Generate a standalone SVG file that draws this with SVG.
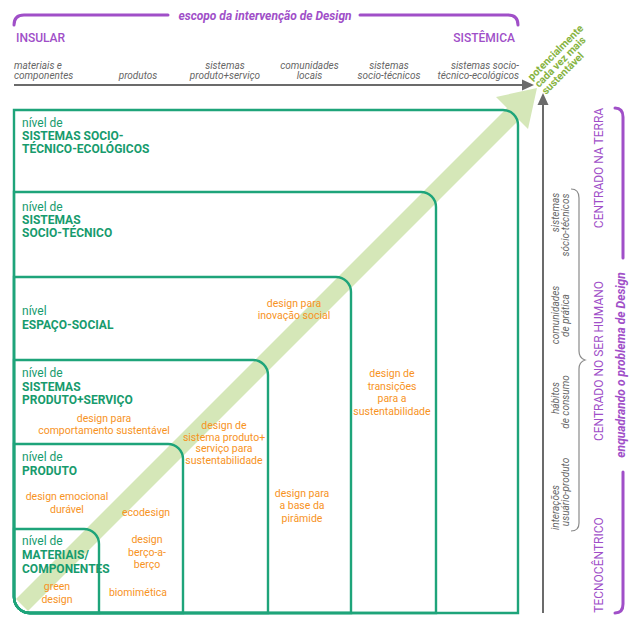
<svg xmlns="http://www.w3.org/2000/svg" width="640" height="622" viewBox="0 0 640 622">
<style>
text{font-family:Roboto,"Liberation Sans",sans-serif}
.box{fill:none;stroke:#1ea47a;stroke-width:2.4}
.lvl{fill:#179b6d;font-size:12px}
.b{font-weight:bold}
.or{fill:#f7931e;font-size:10.5px;text-anchor:middle}
.cat{fill:#666;font-size:10px;font-style:italic}
.side{fill:#666;font-size:10px;font-style:italic;text-anchor:middle}
.pur{fill:#a04fc8}
.big{font-size:12px;text-anchor:middle}
.gline{stroke:#6b6b6b;stroke-width:2;fill:none}
.pline{stroke:#a04fc8;stroke-width:3;fill:none;stroke-linecap:round}
.brace{stroke:#8a8a8a;stroke-width:1.2;fill:none}
</style>
<rect width="640" height="622" fill="#fff"/>
<g id="sustainability-arrow">
<line x1="22" y1="605" x2="514" y2="113" stroke="#d5e7b8" stroke-width="17"/>
<polygon points="537,88 496,97 528,129" fill="#d5e7b8"/>
<g font-size="10.5" font-weight="bold" fill="#86b341">
<text transform="translate(532,81) rotate(-45)">potencialmente</text>
<text transform="translate(539,88) rotate(-45)">cada vez mais</text>
<text transform="translate(546,95) rotate(-45)">sustentável</text>
</g>
</g>
<g id="box-ecologicos">
<path class="box" d="M14,110 H503 A15,15 0 0 1 518,125 V613 H30 A16,16 0 0 1 14,597 Z"/>
<text class="lvl" x="22" y="127">nível de</text>
<text class="lvl b" x="22" y="140">SISTEMAS SOCIO-</text>
<text class="lvl b" x="22" y="153">TÉCNICO-ECOLÓGICOS</text>
</g>
<g id="box-sociotecnico">
<path class="box" d="M14,192 H421 A15,15 0 0 1 436,207 V613 H30 A16,16 0 0 1 14,597 Z"/>
<text class="lvl" x="22" y="210.5">nível de</text>
<text class="lvl b" x="22" y="223.5">SISTEMAS</text>
<text class="lvl b" x="22" y="237">SOCIO-TÉCNICO</text>
<text class="or" x="392" y="377">design de</text>
<text class="or" x="392" y="389.5">transições</text>
<text class="or" x="392" y="402">para a</text>
<text class="or" x="392" y="414.5">sustentabilidade</text>
</g>
<g id="box-espaco-social">
<path class="box" d="M14,277 H336 A15,15 0 0 1 351,292 V613 H30 A16,16 0 0 1 14,597 Z"/>
<text class="lvl" x="22" y="315">nível</text>
<text class="lvl b" x="22" y="329">ESPAÇO-SOCIAL</text>
<text class="or" x="294" y="307">design para</text>
<text class="or" x="294" y="319">inovação social</text>
<text class="or" x="302" y="496.5">design para</text>
<text class="or" x="302" y="509">a base da</text>
<text class="or" x="302" y="521.5">pirâmide</text>
</g>
<g id="box-produto-servico">
<path class="box" d="M14,360 H253 A15,15 0 0 1 268,375 V613 H30 A16,16 0 0 1 14,597 Z"/>
<text class="lvl" x="22" y="377">nível de</text>
<text class="lvl b" x="22" y="391">SISTEMAS</text>
<text class="lvl b" x="22" y="404">PRODUTO+SERVIÇO</text>
<text class="or" x="104" y="422">design para</text>
<text class="or" x="104" y="434">comportamento sustentável</text>
<text class="or" x="224" y="429">design de</text>
<text class="or" x="224" y="440.5">sistema produto+</text>
<text class="or" x="224" y="452">serviço para</text>
<text class="or" x="224" y="463.5">sustentabilidade</text>
</g>
<g id="box-produto">
<path class="box" d="M14,444 H168 A15,15 0 0 1 183,459 V613 H30 A16,16 0 0 1 14,597 Z"/>
<text class="lvl" x="22" y="461">nível de</text>
<text class="lvl b" x="22" y="475">PRODUTO</text>
<text class="or" x="67" y="500">design emocional</text>
<text class="or" x="67" y="512.5">durável</text>
<text class="or" x="146" y="516">ecodesign</text>
<text class="or" x="147" y="543">design</text>
<text class="or" x="147" y="555.5">berço-a-</text>
<text class="or" x="147" y="568">berço</text>
<text class="or" x="138" y="596">biomimética</text>
</g>
<g id="box-materiais">
<path class="box" d="M14,529 H84 A15,15 0 0 1 99,544 V613 H30 A16,16 0 0 1 14,597 Z"/>
<text class="lvl" x="22" y="545">nível de</text>
<text class="lvl b" x="22" y="559">MATERIAIS/</text>
<text class="lvl b" x="22" y="573">COMPONENTES</text>
<text class="or" x="57" y="590">green</text>
<text class="or" x="57" y="603">design</text>
</g>
<g id="scope-axis">
<text class="pur b" x="265" y="20" font-size="12" font-style="italic" text-anchor="middle">escopo da intervenção de Design</text>
<text class="pur" x="16" y="41.5" font-size="12" font-weight="500">INSULAR</text>
<text class="pur" x="515" y="41.5" font-size="12" font-weight="500" text-anchor="end">SISTÊMICA</text>
<text class="cat" x="14" y="69">materiais e</text>
<text class="cat" x="14" y="78.5">componentes</text>
<text class="cat" x="138" y="78.5" text-anchor="middle">produtos</text>
<text class="cat" x="225" y="69" text-anchor="middle">sistemas</text>
<text class="cat" x="225" y="78.5" text-anchor="middle">produto+serviço</text>
<text class="cat" x="309.5" y="69" text-anchor="middle">comunidades</text>
<text class="cat" x="309.5" y="78.5" text-anchor="middle">locais</text>
<text class="cat" x="389" y="69" text-anchor="middle">sistemas</text>
<text class="cat" x="389" y="78.5" text-anchor="middle">socio-técnicos</text>
<text class="cat" x="519" y="69" text-anchor="end">sistemas socio-</text>
<text class="cat" x="519" y="78.5" text-anchor="end">técnico-ecológicos</text>
</g>
<g id="framing-axis">
<text class="side" transform="translate(559,212.5) rotate(-90)">sistemas</text>
<text class="side" transform="translate(568.5,225) rotate(-90)">sócio-técnicos</text>
<text class="side" transform="translate(559,315) rotate(-90)">comunidades</text>
<text class="side" transform="translate(568.5,315.5) rotate(-90)">de prática</text>
<text class="side" transform="translate(559,398) rotate(-90)">hábitos</text>
<text class="side" transform="translate(568.5,402) rotate(-90)">de consumo</text>
<text class="side" transform="translate(559,507.5) rotate(-90)">interações</text>
<text class="side" transform="translate(568.5,492) rotate(-90)">usuário-produto</text>
<text class="pur big" transform="translate(603,168) rotate(-90)">CENTRADO NA TERRA</text>
<text class="pur big" transform="translate(603,361) rotate(-90)">CENTRADO NO SER HUMANO</text>
<text class="pur big" transform="translate(603,565) rotate(-90)">TECNOCÊNTRICO</text>
<text class="pur b big" transform="translate(625,365) rotate(-90)" font-style="italic">enquadrando o problema de Design</text>
</g>
<g id="connectors">
<path class="pline" d="M14,25 Q14,15 24,15 H168"/>
<path class="pline" d="M360,15 H508 Q518,15 518,25"/>
<path class="pline" d="M615,108 Q623,108 623,117 V258"/>
<path class="pline" d="M623,472 V604 Q623,613 615,613"/>
<line class="gline" x1="14" y1="85" x2="524" y2="85"/>
<polygon points="534,85 522,79.5 522,90.5" fill="#6b6b6b"/>
<line class="gline" x1="543" y1="613" x2="543" y2="102"/>
<polygon points="543,93 537.5,105 548.5,105" fill="#6b6b6b"/>
<path class="brace" d="M571,189 Q579,189 579,198 V351 Q579,358 585,360 Q579,362 579,369 V523 Q579,531 571,531"/>
</g>
</svg>
